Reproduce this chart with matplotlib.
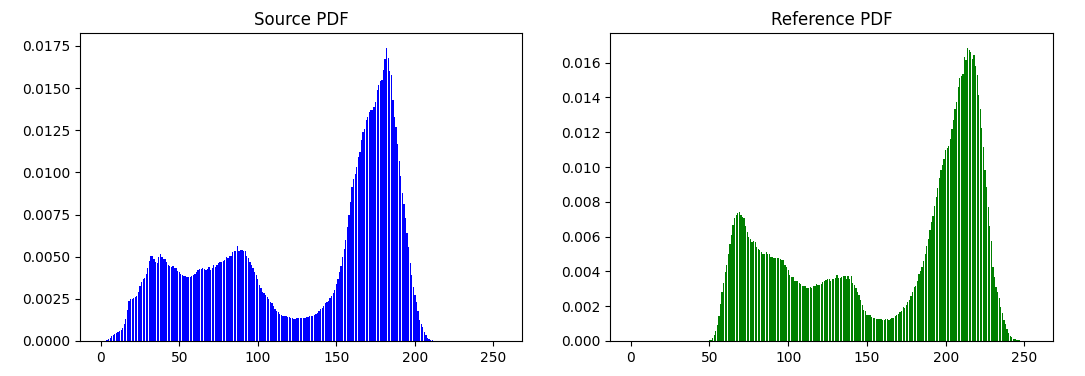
import matplotlib
matplotlib.use("Agg")
import matplotlib.pyplot as plt
import numpy as np

bins = np.arange(256)

# Source PDF values (bins 0..255)
src_0_17 = [0, 0, 0, 0, 0.00006, 0.00012, 0.0002, 0.0003, 0.00034, 0.0004, 0.00046, 0.00052,
            0.0006, 0.00065, 0.00077, 0.001, 0.0013, 0.00184]
src_18_53 = [0.00238, 0.00248, 0.00252, 0.00256, 0.00262, 0.00268, 0.00292, 0.00327, 0.00351,
             0.00369, 0.00375, 0.00399, 0.00432,
             0.00472, 0.00506, 0.00506, 0.00486, 0.0047, 0.00464, 0.005, 0.00518, 0.005, 0.00488,
             0.00488, 0.0047, 0.00452, 0.00442, 0.0044, 0.00446, 0.00432, 0.00432, 0.00418,
             0.00409, 0.00399, 0.00393, 0.00387]
src_54_110 = [0.00387, 0.0038, 0.0038, 0.0038, 0.00387, 0.00393, 0.0040, 0.0041, 0.0042, 0.00428,
              0.0043, 0.00434, 0.00428, 0.00424, 0.00428, 0.0044, 0.00424, 0.00434, 0.0045,
              0.00436, 0.0045, 0.00464, 0.0047, 0.00468, 0.00474, 0.00478, 0.005, 0.00494,
              0.00506, 0.00506, 0.0053, 0.00533, 0.00536, 0.00561, 0.00536, 0.0054, 0.00542,
              0.00532, 0.00536, 0.00506, 0.00494, 0.0047, 0.00452, 0.00434, 0.0041, 0.00393,
              0.00369, 0.00333, 0.00315, 0.00292, 0.00283, 0.00274, 0.00262, 0.0025, 0.00232,
              0.00226, 0.00205]
src_111_139 = [0.00192, 0.0018, 0.00173, 0.00161, 0.00155, 0.00149, 0.00149, 0.00146, 0.00143,
               0.0014, 0.00137, 0.00137, 0.00133, 0.00133, 0.00135, 0.00137, 0.00135, 0.00137,
               0.00137, 0.00137, 0.0014, 0.00145, 0.00147, 0.00149, 0.00149, 0.00155, 0.00161,
               0.00167, 0.00178]
src_140_168 = [0.0019, 0.00196, 0.00208, 0.00224, 0.00232, 0.00238, 0.00254, 0.00268, 0.00284,
               0.00304, 0.00339, 0.00369, 0.00407, 0.00446, 0.00498,
               0.00547, 0.006, 0.00678, 0.0075, 0.00827, 0.00916, 0.00958, 0.00988, 0.01035,
               0.01089, 0.01119, 0.0119, 0.01238, 0.01255]
src_169_211 = [0.0131, 0.0133, 0.0136, 0.0137, 0.0137, 0.0139, 0.0142, 0.0149, 0.0152, 0.0154,
               0.0155, 0.0161, 0.0167, 0.0174, 0.0168, 0.0160, 0.0158, 0.0143, 0.0133, 0.0127,
               0.0117, 0.0107, 0.0098, 0.0088, 0.0081, 0.0073, 0.0064, 0.0056, 0.0046, 0.0039,
               0.0032, 0.0027, 0.0023, 0.0018, 0.00125, 0.001, 0.00083, 0.00054, 0.00036,
               0.00018, 0.00012, 0.00006, 0.00006]
src_212_255 = [0.0] * 44

# Reference PDF values (bins 0..255)
ref_0_49 = [0.0] * 50
ref_50_100 = [0.00006, 0.00008, 0.00017, 0.00035, 0.00058, 0.00092, 0.00144, 0.00213, 0.00282,
              0.00334, 0.00397, 0.00437, 0.005, 0.00558, 0.0061, 0.00668, 0.00708, 0.00725,
              0.00737, 0.00742, 0.00725, 0.00714, 0.00708, 0.00662, 0.00627, 0.00598, 0.00587,
              0.0057, 0.00575, 0.0057, 0.00541, 0.0053, 0.00524, 0.00512, 0.005, 0.005, 0.00512,
              0.005, 0.005, 0.00483, 0.00483, 0.00478, 0.00478, 0.00478, 0.00478, 0.00472,
              0.00468, 0.00466, 0.00437, 0.00426, 0.00409]
ref_101_157 = [0.0038, 0.00368, 0.00368, 0.00345, 0.00345, 0.00345, 0.00334, 0.00328, 0.00317,
               0.00317, 0.00317, 0.00305, 0.00305, 0.0031, 0.00305, 0.00317, 0.00317, 0.00328,
               0.00322, 0.00322, 0.00328, 0.0034, 0.00345, 0.00351, 0.00357, 0.00357, 0.00345,
               0.00357, 0.00357, 0.00363, 0.0038, 0.00363, 0.00363, 0.00368, 0.00374, 0.00374,
               0.00357, 0.00374, 0.00357, 0.00374, 0.00334, 0.00322, 0.00305, 0.00282, 0.00265,
               0.00236, 0.00207, 0.00178, 0.00173, 0.0015, 0.0015, 0.0015, 0.00138, 0.00132,
               0.00132, 0.00127, 0.00127]
ref_158_201 = [0.00127, 0.00124, 0.00121, 0.00121, 0.00127, 0.00124, 0.00121, 0.00127, 0.00132,
               0.00132, 0.00144, 0.0015, 0.00155, 0.00167, 0.00173, 0.00196, 0.0019, 0.00207,
               0.00224, 0.00236, 0.00259, 0.00282, 0.00311, 0.00317, 0.00345, 0.00386, 0.00403,
               0.00426, 0.0046, 0.005, 0.00547, 0.00587, 0.00639, 0.00685, 0.0072, 0.00777,
               0.00829, 0.0088, 0.00938, 0.00984, 0.01013, 0.01047, 0.01099, 0.01111]
ref_202_247 = [0.01118, 0.01163, 0.0122, 0.01272, 0.01335, 0.01375, 0.01462, 0.01514, 0.01525,
               0.01537, 0.01634, 0.01617, 0.01686, 0.01675, 0.0166, 0.01623, 0.01646, 0.01583,
               0.01531, 0.01416, 0.01335, 0.01226, 0.01117, 0.00984, 0.00886, 0.00771, 0.00662,
               0.00575, 0.00426, 0.00368, 0.00311, 0.0028, 0.00247, 0.00196, 0.00161, 0.00121,
               0.00098, 0.00069, 0.00046, 0.00029, 0.00023, 0.00012, 0.00012, 0.00006, 0.00006,
               0.00003]
ref_248_255 = [0.0] * 8

src_pdf = src_0_17 + src_18_53 + src_54_110 + src_111_139 + src_140_168 + src_169_211 + src_212_255
ref_pdf = ref_0_49 + ref_50_100 + ref_101_157 + ref_158_201 + ref_202_247 + ref_248_255
assert len(src_pdf) == 256, len(src_pdf)
assert len(ref_pdf) == 256, len(ref_pdf)

fig = plt.figure(figsize=(10.85, 3.76), dpi=100)
ax1 = fig.add_axes([80 / 1085, 35 / 376, 442 / 1085, 308 / 376])
ax2 = fig.add_axes([610 / 1085, 35 / 376, 443 / 1085, 308 / 376])

ax1.bar(bins, src_pdf, color="blue")
ax1.set_title("Source PDF")
ax2.bar(bins, ref_pdf, color="green")
ax2.set_title("Reference PDF")

fig.savefig("out.png", dpi=100)
